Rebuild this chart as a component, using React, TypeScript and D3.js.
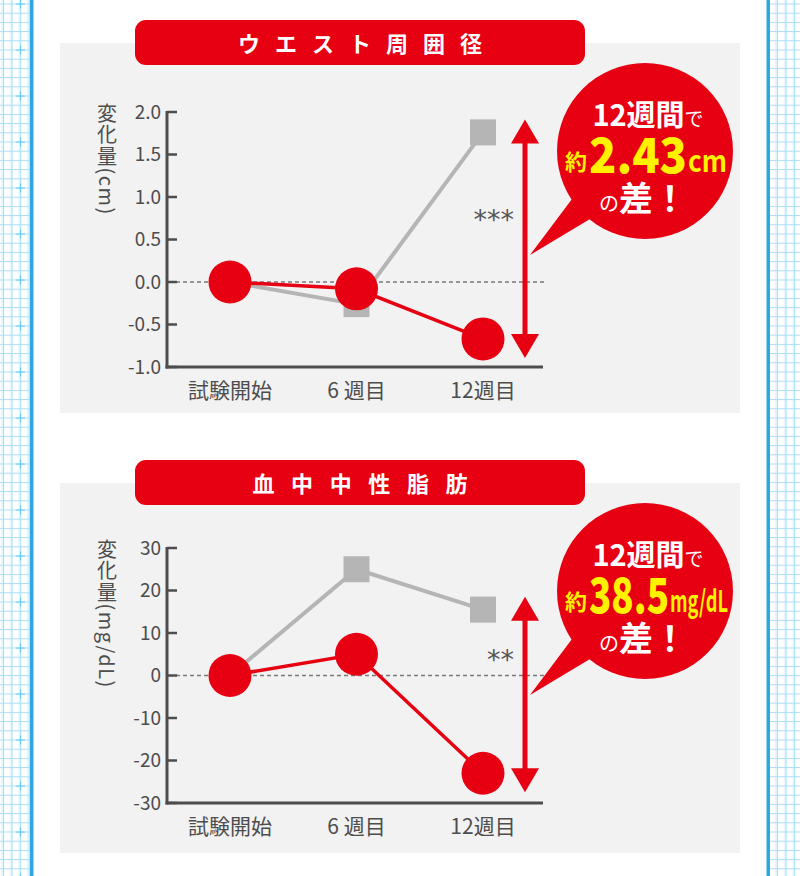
import * as d3 from "d3"

const W = 800
const H = 876

const categories = ["試験開始", "6 週目", "12週目"]

// ウエスト周囲径 (cm)
const waistTest = [0, -0.08, -0.67]
const waistPlacebo = [0, -0.26, 1.76]
const waistTicks = [2.0, 1.5, 1.0, 0.5, 0.0, -0.5, -1.0]

// 血中中性脂肪 (mg/dL)
const tgTest = [0, 5, -23]
const tgPlacebo = [0, 25, 15.5]
const tgTicks = [30, 20, 10, 0, -10, -20, -30]

const RED = "#e60012"
const GRAY = "#b5b5b5"
const AXIS = "#4d4d4d"
const YELLOW = "#fff100"
const FONT = "'Noto Sans CJK JP', 'Noto Sans', sans-serif"

interface PanelProps {
  oy: number
  title: string
  spacing: number
  yLabel: string
  ticks: number[]
  fmt: (v: number) => string
  test: number[]
  placebo: number[]
  sig: string
  axisTop: number
  axisBottom: number
  diff: string
  diffW: number
  unit: string
  unitW: number
}

function Panel(p: PanelProps) {
  const x = d3.scalePoint<string>().domain(categories).range([230, 483])
  const y = d3.scaleLinear()
    .domain([d3.min(p.ticks) as number, d3.max(p.ticks) as number])
    .range([p.axisBottom, p.axisTop])

  const line = d3.line<number>()
    .x((_, i) => x(categories[i]) as number)
    .y(d => y(d))

  const last = categories.length - 1
  const ax = 525
  const top = y(p.placebo[last]) - 13
  const bot = y(p.test[last]) + 19
  const axisX = 167

  return (
    <g transform={`translate(0,${p.oy})`}>
      {/* パネル */}
      <rect x={60} y={43} width={680} height={370} fill="#f2f2f2" />
      <rect x={135} y={20} width={450} height={45} rx={11} fill={RED} />
      <text x={360 + p.spacing / 2} y={52} textAnchor="middle" fill="#fff" fontSize={22}
        fontWeight="bold" letterSpacing={p.spacing} fontFamily={FONT}>{p.title}</text>

      {/* 縦軸ラベル */}
      <text x={107} y={p.axisTop - 9} fill={AXIS} fontSize={20} letterSpacing={1.5} fontFamily={FONT}
        style={{ writingMode: "vertical-rl" }}>{p.yLabel}</text>

      {/* 0 の点線 */}
      <line x1={axisX + 9} x2={545} y1={y(0)} y2={y(0)} stroke="#7a7a7a" strokeWidth={1.3}
        strokeDasharray="4 3" />

      {/* 軸 */}
      {p.ticks.map(t => (
        <g key={t}>
          <line x1={axisX} x2={axisX + 10} y1={y(t)} y2={y(t)} stroke={AXIS} strokeWidth={2.5} />
          <text x={161} y={y(t)} dy="0.35em" textAnchor="end" fill={AXIS} fontSize={19}
            fontFamily={FONT}>{p.fmt(t)}</text>
        </g>
      ))}
      <line x1={axisX} x2={axisX} y1={p.axisTop - 1} y2={p.axisBottom + 1.5} stroke={AXIS} strokeWidth={3} />
      <line x1={axisX - 1.5} x2={543} y1={p.axisBottom} y2={p.axisBottom} stroke={AXIS} strokeWidth={3} />
      {categories.map(c => (
        <text key={c} x={x(c)} y={p.axisBottom + 24} dy="0.35em" textAnchor="middle" fill={AXIS}
          fontSize={21} fontFamily={FONT}>{c}</text>
      ))}

      {/* プラセボ */}
      <path d={line(p.placebo) as string} fill="none" stroke={GRAY} strokeWidth={4} />
      {p.placebo.map((v, i) => (
        <rect key={i} x={(x(categories[i]) as number) - 13} y={y(v) - 13} width={26} height={26} fill={GRAY} />
      ))}

      {/* 試験品 */}
      <path d={line(p.test) as string} fill="none" stroke={RED} strokeWidth={3.5} />
      {p.test.map((v, i) => (
        <circle key={i} cx={x(categories[i])} cy={y(v)} r={21.5} fill={RED} />
      ))}

      {/* 差の矢印 */}
      <line x1={ax} x2={ax} y1={top + 20} y2={bot - 20} stroke={RED} strokeWidth={5} />
      <path d={`M${ax},${top} L${ax + 14},${top + 24} L${ax - 14},${top + 24} Z`} fill={RED} />
      <path d={`M${ax},${bot} L${ax + 14},${bot - 24} L${ax - 14},${bot - 24} Z`} fill={RED} />
      <text x={514} y={229} textAnchor="end" fill="#555" fontSize={27}
        fontFamily="'DejaVu Sans', sans-serif">{p.sig}</text>

      {/* 吹き出し */}
      <path d="M572,199 L590,219 L530,255 Z" fill={RED} />
      <circle cx={645} cy={151} r={88} fill={RED} />
      <text x={648} y={126} textAnchor="middle" fill="#fff" fontFamily={FONT}>
        <tspan fontSize={29} fontWeight="bold">12週間</tspan>
        <tspan fontSize={19}>で</tspan>
      </text>
      <text x={565} y={170} fill={YELLOW} fontSize={22} fontWeight="bold" fontFamily={FONT}
        textLength={22} lengthAdjust="spacingAndGlyphs">約</text>
      <text x={589} y={173} fill={YELLOW} fontSize={48} fontWeight="900" fontFamily={FONT}
        textLength={p.diffW} lengthAdjust="spacingAndGlyphs">{p.diff}</text>
      <text x={589 + p.diffW + 1} y={172} fill={YELLOW} fontSize={30} fontWeight="bold" fontFamily={FONT}
        textLength={p.unitW} lengthAdjust="spacingAndGlyphs">{p.unit}</text>
      <text x={643} y={211} textAnchor="middle" fill="#fff" fontFamily={FONT}>
        <tspan fontSize={20}>の</tspan>
        <tspan fontSize={34} fontWeight="bold">差！</tspan>
      </text>
    </g>
  )
}

function GridStrip({ x0, w }: { x0: number, w: number }) {
  return <rect x={x0} y={0} width={w} height={H} fill="url(#grid)" />
}

export default function App() {
  return (
    <svg width={W} height={H} viewBox={`0 0 ${W} ${H}`}
      style={{ position: "absolute", left: 0, top: 0, display: "block", background: "#fff" }}>
      <defs>
        <pattern id="grid" patternUnits="userSpaceOnUse" x={3} y={3.5} width={8.6} height={9.2}>
          <rect width={8.6} height={9.2} fill="#fff" />
          <rect x={7} y={0} width={3} height={9.2} fill="#e3f5fd" />
          <line x1={0.5} x2={0.5} y1={0} y2={9.2} stroke="#a9def6" strokeWidth={1} />
          <line x1={0} x2={8.6} y1={0.5} y2={0.5} stroke="#a9def6" strokeWidth={1} />
        </pattern>
        <pattern id="cross" patternUnits="userSpaceOnUse" x={0} y={3.5} width={46} height={46}>
          <line x1={16} x2={25} y1={0.5} y2={0.5} stroke="#6ccaf2" strokeWidth={1.2} />
          <line x1={20.5} x2={20.5} y1={-4} y2={5} stroke="#6ccaf2" strokeWidth={1.2} />
          <line x1={20.5} x2={20.5} y1={42} y2={46} stroke="#6ccaf2" strokeWidth={1.2} />
        </pattern>
      </defs>
      <GridStrip x0={0} w={30} />
      <rect x={0} y={0} width={30} height={H} fill="url(#cross)" />
      <rect x={30} y={0} width={3.5} height={H} fill="#2ea7e0" />
      <GridStrip x0={770} w={30} />
      <rect x={766.5} y={0} width={3.5} height={H} fill="#2ea7e0" />

      <Panel oy={0} title="ウエスト周囲径" spacing={15} yLabel="変化量(cm)" ticks={waistTicks}
        fmt={v => v.toFixed(1)} test={waistTest} placebo={waistPlacebo} sig="***"
        axisTop={112} axisBottom={367} diff="2.43" diffW={98} unit="cm" unitW={39} />
      <Panel oy={440} title="血中中性脂肪" spacing={16.6} yLabel="変化量(mg/dL)" ticks={tgTicks}
        fmt={v => String(v)} test={tgTest} placebo={tgPlacebo} sig="**"
        axisTop={108} axisBottom={363} diff="38.5" diffW={80} unit="mg/dL" unitW={58} />
    </svg>
  )
}
